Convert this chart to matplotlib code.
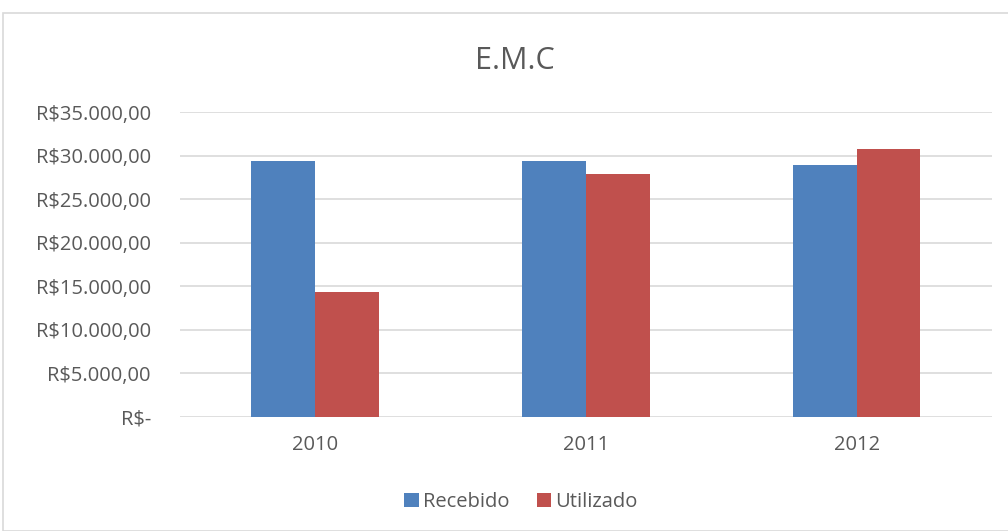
import numpy as np
import matplotlib.pyplot as plt
from matplotlib.patches import Rectangle

anos = ["2010", "2011", "2012"]
recebido = [29400, 29400, 28900]
utilizado = [14330, 27930, 30770]
series = ["Recebido", "Utilizado"]
cores = ["#4F81BD", "#C0504D"]

plt.rcParams['font.family'] = ['Open Sans', 'DejaVu Sans']

fig = plt.figure(figsize=(10.08, 5.31), dpi=100)
ax = fig.add_axes([0.1786, 0.2147, 0.8054, 0.5743])

# moldura do gráfico
fig.patches.append(Rectangle((3 / 1008, 0), 1.0, 1 - 13 / 531, transform=fig.transFigure,
                             fill=False, edgecolor="#D9D9D9", linewidth=1.2))

x = np.arange(len(anos))
w = 0.236
ax.bar(x - w / 2, recebido, w, color=cores[0], label=series[0], zorder=3)
ax.bar(x + w / 2, utilizado, w, color=cores[1], label=series[1], zorder=3)

ax.set_xlim(-0.5, 2.5)
ax.set_ylim(0, 35000)
ax.set_yticks(np.arange(0, 35001, 5000))

def moeda(v, pos=None):
    if v == 0:
        return "R$-"
    return "R$" + f"{v:,.2f}".replace(",", "X").replace(".", ",").replace("X", ".")

ax.set_yticklabels([moeda(v) for v in ax.get_yticks()])
ax.set_xticks(x)
ax.set_xticklabels(anos)

for s in ax.spines.values():
    s.set_visible(False)
ax.grid(axis="y", color="#D9D9D9", linewidth=1.2, zorder=0)
ax.tick_params(length=0, labelsize=14.5, colors="#595959")
ax.tick_params(axis="y", pad=21)
ax.tick_params(axis="x", pad=13)

fig.text(0.511, 0.886, "E.M.C", ha="center", va="center", fontsize=22, color="#595959")

fig.legend(loc="center", bbox_to_anchor=(0.517, 0.054), ncol=2, frameon=False,
           fontsize=14.5, labelcolor="#595959", handlelength=0.7, handleheight=0.7,
           handletextpad=0.2, columnspacing=1.4)

fig.savefig("out.png", dpi=100)
